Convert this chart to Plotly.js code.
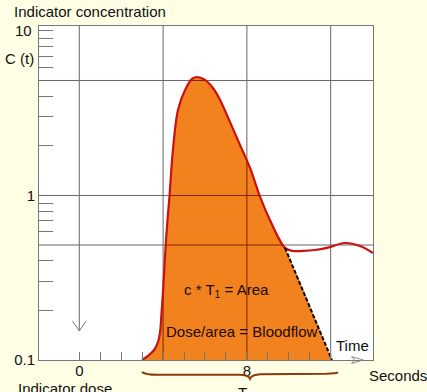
<!DOCTYPE html>
<html>
<head>
<meta charset="utf-8">
<script src="https://cdn.plot.ly/plotly-3.0.1.min.js"></script>
<style>html,body{margin:0;padding:0;background:#FFFFE6;}</style>
</head>
<body>
<div id="chart" style="width:427px;height:392px;"></div>
<script>
// Indicator-dilution curve: time (s) vs concentration C(t), log scale
const timeS = [2.99,3.28,3.57,3.76,3.85,3.92,4.00,4.07,4.14,4.23,4.31,4.47,4.71,5.05,5.38,5.62,6.00,6.38,6.72,7.19,7.67,8.15,8.63,9.10,9.82,10.20,10.68,11.25,11.82,12.68,13.40,14.02];
const conc  = [0.100,0.106,0.115,0.129,0.146,0.188,0.266,0.378,0.536,0.761,1.007,1.89,3.31,4.38,5.11,5.25,5.04,4.50,3.81,2.80,2.03,1.47,0.98,0.71,0.48,0.46,0.46,0.466,0.48,0.514,0.493,0.447];
const firstPassCount = 25;            // points before recirculation
const extrapX = [9.82, 12.06];        // extrapolated down-slope (dashed)
const extrapY = [0.48, 0.10];

const xTickLabels = {vals:[0,8], text:['0','8']};
const xMinorTicks = [1,2,3,4,5,6,7,9,10,11,12];
const xGridVals = [0,4,8,12];
const yTickLabels = {vals:[0.1,1], text:['0.1','1']};
const yMinorTicks = [0.2,0.3,0.4,0.6,0.7,0.8,0.9,2,3,4,6,7,8,9,10];
const yGridVals = [0.5,1,5];
const doseArrowTip = 0.15;

const xRange = [-1.924, 14.02];
const yRangeLog = [-1, 1.03];
const yBottom = Math.pow(10, yRangeLog[0]);
const yTop = Math.pow(10, yRangeLog[1]);

// area under first pass (fill polygon)
const fillX = timeS.slice(0, firstPassCount).concat([extrapX[1]]);
const fillY = conc.slice(0, firstPassCount).concat([extrapY[1]]);

// full grid lines (grey, under the fill)
const gx = [], gy = [];
xGridVals.forEach(v => { gx.push(v, v, null); gy.push(v === 0 ? doseArrowTip : yBottom, yTop, null); });
yGridVals.forEach(v => { gx.push(xRange[0], xRange[1], null); gy.push(v, v, null); });

// parts of the grid lines lying inside the filled area (drawn dark red over the fill)
const poly = fillX.map((x, i) => [x, Math.log10(fillY[i])]);
function crossings(dim, v) {
  const out = [];
  for (let i = 0; i < poly.length; i++) {
    const a = poly[i], b = poly[(i + 1) % poly.length];
    const o = 1 - dim;
    if ((a[dim] <= v && b[dim] > v) || (b[dim] <= v && a[dim] > v)) {
      out.push(a[o] + (v - a[dim]) * (b[o] - a[o]) / (b[dim] - a[dim]));
    }
  }
  return out.sort((p, q) => p - q);
}
const ix = [], iy = [];
xGridVals.forEach(v => {
  const c = crossings(0, v);
  for (let k = 0; k + 1 < c.length; k += 2) { ix.push(v, v, null); iy.push(Math.pow(10, c[k]), Math.pow(10, c[k + 1]), null); }
});
yGridVals.forEach(v => {
  const c = crossings(1, Math.log10(v));
  for (let k = 0; k + 1 < c.length; k += 2) { ix.push(c[k], c[k + 1], null); iy.push(v, v, null); }
});

const font = 'Arial, "Liberation Sans", sans-serif';

const traces = [
  {x: gx, y: gy, mode: 'lines', line: {color: '#666', width: 1}, connectgaps: false,
   hoverinfo: 'skip', showlegend: false},
  {x: fillX, y: fillY, mode: 'lines', fill: 'toself', fillcolor: '#F2821E',
   line: {width: 0, shape: 'spline', smoothing: 1}, hoverinfo: 'skip', showlegend: false},
  {x: ix, y: iy, mode: 'lines', line: {color: '#7a2206', width: 1}, connectgaps: false,
   hoverinfo: 'skip', showlegend: false},
  {x: timeS, y: conc, mode: 'lines', line: {color: '#CC1010', width: 2.2, shape: 'spline', smoothing: 1},
   hoverinfo: 'skip', showlegend: false},
  {x: extrapX, y: extrapY, mode: 'lines', line: {color: '#000', width: 2, dash: '4px,2px'},
   hoverinfo: 'skip', showlegend: false}
];

const layout = {
  width: 427, height: 392,
  margin: {l: 39, r: 54, t: 26, b: 32},
  paper_bgcolor: '#FFFFE6', plot_bgcolor: '#FFFFFF',
  font: {family: font, size: 15, color: '#111'},
  showlegend: false,
  title: {text: 'Indicator concentration', xref: 'container', yref: 'container',
          x: 0.033, xanchor: 'left', y: 0.969, yanchor: 'middle',
          font: {family: font, size: 15, color: '#111'}},
  xaxis: {range: xRange, tickmode: 'array', tickvals: xTickLabels.vals, ticktext: xTickLabels.text,
          ticks: 'inside', ticklen: 8, tickcolor: '#777', showgrid: false, zeroline: false,
          showline: true, linecolor: '#777', linewidth: 1, mirror: true, ticklabelstandoff: -3,
          minor: {tickmode: 'array', tickvals: xMinorTicks, ticks: 'inside', ticklen: 8, tickcolor: '#777', showgrid: false},
          tickfont: {family: font, size: 15, color: '#111'}},
  yaxis: {type: 'log', range: yRangeLog, tickmode: 'array', tickvals: yTickLabels.vals, ticktext: yTickLabels.text,
          ticks: '', showgrid: false, zeroline: false,
          showline: true, linecolor: '#777', linewidth: 1, mirror: true,
          minor: {tickmode: 'array', tickvals: yMinorTicks, ticks: 'inside', ticklen: 14, tickcolor: '#777', showgrid: false},
          tickfont: {family: font, size: 15, color: '#111'}},
  annotations: [
    {text: '10', xref: 'paper', x: 0, xanchor: 'right', xshift: -5, yref: 'y', y: 1, yanchor: 'middle', showarrow: false},
    {text: 'C (t)', xref: 'paper', x: 0, xanchor: 'right', xshift: -3, yref: 'paper', y: 0.904, yanchor: 'middle', showarrow: false},
    {text: 'c * T<sub>1</sub> = Area', xref: 'x', x: 7.03, yref: 'paper', y: 0.207, yanchor: 'middle', showarrow: false, font: {color: '#1a0a00'}},
    {text: 'Dose/area = Bloodflow', xref: 'x', x: 7.77, yref: 'paper', y: 0.084, yanchor: 'middle', showarrow: false, font: {color: '#1a0a00'}},
    {text: 'Time', xref: 'x', x: 13.04, yref: 'paper', y: 0.042, yanchor: 'middle', showarrow: false},
    {text: 'Seconds', xref: 'paper', x: 0.982, xanchor: 'left', yref: 'paper', y: -0.045, yanchor: 'middle', showarrow: false},
    {text: 'Indicator dose', xref: 'x', x: -0.66, yref: 'paper', y: -0.084, yanchor: 'middle', showarrow: false},
    {text: 'T', xref: 'x', x: 7.81, yref: 'paper', y: -0.098, yanchor: 'middle', showarrow: false}
  ],
  shapes: [
    // open arrowhead on the indicator dose line
    {type: 'path', xref: 'x', yref: 'paper', path: 'M -0.33,0.117 L 0,0.087 L 0.33,0.117',
     line: {color: '#777', width: 1}},
    // arrowhead at the end of the time axis
    {type: 'path', xref: 'x', yref: 'paper', path: 'M 13.00,0.010 L 13.56,0 L 13.00,-0.010 L 13.14,0 Z',
     line: {color: '#888', width: 1}},
    // brace under the first-pass time span
    {type: 'path', xref: 'x', yref: 'paper',
     path: 'M 2.99,-0.036 Q 3.2,-0.044 3.7,-0.044 L 7.65,-0.044 Q 8.08,-0.045 8.15,-0.056 Q 8.22,-0.045 8.65,-0.043 L 11.8,-0.041 Q 12.28,-0.040 12.35,-0.037',
     line: {color: '#8B3A0A', width: 2}}
  ]
};

Plotly.newPlot('chart', traces, layout, {displayModeBar: false, staticPlot: true});
</script>
</body>
</html>
